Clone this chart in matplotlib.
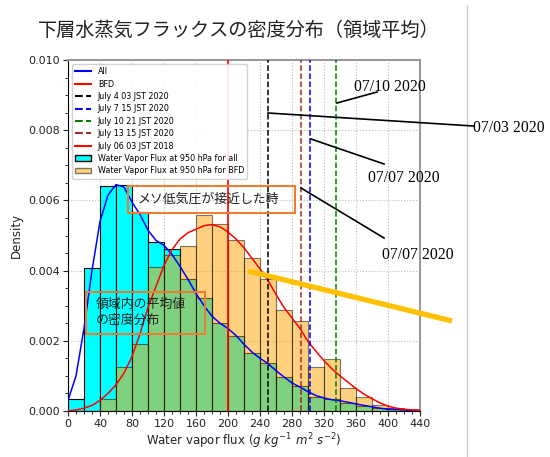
import matplotlib
matplotlib.use("Agg")
import matplotlib.pyplot as plt
from matplotlib.lines import Line2D
from matplotlib.patches import Patch, Rectangle
from matplotlib.transforms import Affine2D
from matplotlib.ticker import MultipleLocator

# histogram bins (width 20) and densities
bin_left = list(range(0, 440, 20))
dens_all = [0.00034, 0.00408, 0.00640, 0.00643, 0.00567, 0.00481, 0.00461, 0.00375,
            0.00321, 0.00250, 0.00214, 0.00165, 0.00136, 0.00097, 0.00072, 0.00041,
            0.00034, 0.00022, 0.00015, 0.00009, 0.00005, 0.00002]
dens_bfd = [0.0, 0.0, 0.00033, 0.00124, 0.00191, 0.00410, 0.00444, 0.00470,
            0.00559, 0.00533, 0.00487, 0.00435, 0.00376, 0.00289, 0.00255, 0.00124,
            0.00147, 0.00065, 0.00041, 0.00017, 0.00008, 0.00002]

# kde curves, read every 10 units
kde_x = list(range(0, 450, 10))
kde_all = [0.30, 1.00, 2.35, 4.00, 5.40, 6.15, 6.45, 6.38, 5.95, 5.60, 5.15, 4.86, 4.72,
           4.46, 4.12, 3.75, 3.35, 3.00, 2.70, 2.50, 2.35, 2.15, 1.90, 1.68, 1.50, 1.35,
           1.15, 0.97, 0.80, 0.68, 0.55, 0.44, 0.37, 0.32, 0.29, 0.25, 0.20, 0.16, 0.12,
           0.08, 0.05, 0.04, 0.03, 0.02, 0.02]
kde_bfd = [0.00, 0.03, 0.08, 0.16, 0.30, 0.50, 0.75, 1.08, 1.55, 2.20, 2.95, 3.55, 4.15,
           4.60, 4.90, 5.08, 5.18, 5.28, 5.31, 5.25, 5.10, 4.90, 4.65, 4.35, 4.05, 3.72,
           3.32, 2.95, 2.65, 2.35, 1.98, 1.70, 1.43, 1.20, 1.00, 0.82, 0.64, 0.48, 0.35,
           0.23, 0.14, 0.08, 0.05, 0.03, 0.02]

# event lines
event_labels = ["July 4 03 JST 2020", "July 7 15 JST 2020", "July 10 21 JST 2020",
                "July 13 15 JST 2020"]
event_x = [250, 303, 334.5, 291]
event_colors = ["black", "blue", "green", "brown"]
ref_label = "July 06 03 JST 2018"
ref_x = 200

title = "下層水蒸気フラックスの密度分布（領域平均）"
box1_text = "メソ低気圧が接近した時"
box2_text = "領域内の平均値\nの密度分布"
ann_texts = ["07/10 2020", "07/03 2020", "07/07 2020", "07/07 2020"]

JP = ["Noto Sans CJK JP", "DejaVu Sans"]
SERIF = "Liberation Serif"
BOX_EDGE = "#ED7D31"

W, H = 550, 457
fig = plt.figure(figsize=(W / 100, H / 100), dpi=100)
pix = Affine2D().scale(1 / W, -1 / H).translate(0, 1) + fig.transFigure
ax = fig.add_axes([68 / W, 1 - 411 / H, (420 - 68) / W, (411 - 60) / H])

ax.bar(bin_left, dens_all, width=20, align="edge", color="cyan",
       edgecolor="black", linewidth=0.8, zorder=2)
ax.bar(bin_left, dens_bfd, width=20, align="edge", color="orange", alpha=0.5,
       edgecolor="black", linewidth=0.8, zorder=3)

ax.plot(kde_x, [v / 1000 for v in kde_all], color="blue", lw=1.1, zorder=4)
ax.plot(kde_x, [v / 1000 for v in kde_bfd], color="red", lw=1.1, zorder=4)

for x, c in zip(event_x, event_colors):
    ax.axvline(x, color=c, ls="--", lw=1.1, zorder=5)
ax.axvline(ref_x, color="red", lw=1.2, zorder=5)

ax.set_xlim(0, 440)
ax.set_ylim(0, 0.010)
ax.xaxis.set_major_locator(MultipleLocator(40))
ax.xaxis.set_minor_locator(MultipleLocator(10))
ax.yaxis.set_major_locator(MultipleLocator(0.002))
ax.yaxis.set_minor_locator(MultipleLocator(0.0005))
ax.tick_params(labelsize=8, colors="#222222", pad=2)
ax.grid(True, ls=":", color="#bbbbbb", lw=0.8)
ax.set_axisbelow(True)
for s in ["top", "right"]:
    ax.spines[s].set_color("#999999")
    ax.spines[s].set_linewidth(1.5)
ax.set_xlabel(r"Water vapor flux ($g\ kg^{-1}\ m^{2}\ s^{-2}$)", fontsize=8.5,
              color="#222222", labelpad=2)
ax.set_ylabel("Density", fontsize=8.5, color="#222222")

handles = [Line2D([], [], color="blue"), Line2D([], [], color="red")]
handles += [Line2D([], [], color=c, ls="--") for c in event_colors]
handles += [Line2D([], [], color="red"),
            Patch(facecolor="cyan", edgecolor="black"),
            Patch(facecolor="orange", alpha=0.5, edgecolor="black")]
labels = ["All", "BFD"] + event_labels + [ref_label,
          "Water Vapor Flux at 950 hPa for all", "Water Vapor Flux at 950 hPa for BFD"]
ax.legend(handles, labels, loc="upper left", fontsize=5.8, framealpha=0.9,
          labelspacing=0.42)

# title and slide annotations
fig.text(239, 30, title, transform=pix, ha="center", va="center", fontsize=13.8,
         family=JP, color="#222222")

fig.add_artist(Rectangle((128, 186), 167, 27, transform=pix, fill=False,
                         edgecolor=BOX_EDGE, lw=1.5, zorder=10))
fig.text(138, 199, box1_text, transform=pix, ha="left", va="center", fontsize=9.3,
         family=JP, color="#222222", zorder=11)
fig.add_artist(Rectangle((86, 292), 119, 42, transform=pix, fill=False,
                         edgecolor=BOX_EDGE, lw=1.5, zorder=10))
fig.text(96, 312, box2_text, transform=pix, ha="left", va="center", fontsize=9.3,
         family=JP, color="#222222", linespacing=1.3, zorder=11)

fig.add_artist(Line2D([248, 452], [271, 321], transform=pix, color="#FFC000",
                      lw=3.8, solid_capstyle="butt", zorder=12))

ann_lines = [((337, 103), (377, 92)), ((268, 113), (473, 126)),
             ((311, 139), (384, 164)), ((301, 188), (384, 238))]
ann_pos = [(354, 87), (473, 128), (368, 178), (382, 255)]
for (p0, p1), (tx, ty), t in zip(ann_lines, ann_pos, ann_texts):
    fig.add_artist(Line2D([p0[0], p1[0]], [p0[1], p1[1]], transform=pix,
                          color="black", lw=1.2, zorder=12))
    fig.text(tx, ty, t, transform=pix, ha="left", va="center", fontsize=11.3,
             family=SERIF, color="black", zorder=13)

# slide separator line
fig.add_artist(Line2D([467, 467], [5, 457], transform=pix, color="#cccccc", lw=1))

fig.savefig("out.png", dpi=100)
